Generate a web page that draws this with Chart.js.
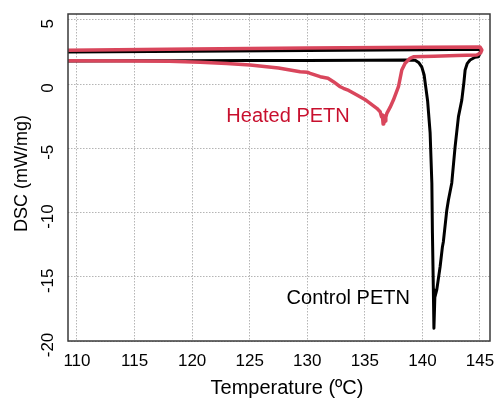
<!DOCTYPE html>
<html>
<head>
<meta charset="utf-8">
<script src="https://cdn.jsdelivr.net/npm/chart.js@4/dist/chart.umd.min.js"></script>
<style>
  html, body { margin: 0; padding: 0; background: #ffffff; }
  #wrap { width: 495px; height: 401px; position: relative; }
</style>
</head>
<body>
<div id="wrap"><canvas id="c" width="495" height="401"></canvas></div>
<script>
// ---- data ----
const xTicks = [110, 115, 120, 125, 130, 135, 140, 145];
const yTicks = [5, 0, -5, -10, -15, -20];

const xTitle = 'Temperature (ºC)';
const yTitle = 'DSC (mW/mg)';
const controlLabel = 'Control PETN';
const heatedLabel = 'Heated PETN';

// Control PETN: heating run (lower line, melt peak) then return along upper line
const controlT = [109.1, 115, 120, 125, 130, 135, 138.5, 139.37, 139.7, 139.95, 140.15, 140.3, 140.45,
  140.67, 140.82, 140.87, 140.95, 141.0, 141.08, 141.25, 141.54, 141.74, 141.82, 142.12, 142.26,
  142.55, 142.84, 143.13, 143.42, 143.6, 143.71, 143.9, 144.14, 144.58, 144.86, 144.97, 145.05,
  144.97, 140, 130, 120, 109.1];
const controlDSC = [1.80, 1.81, 1.82, 1.83, 1.84, 1.86, 1.87, 1.85, 1.65, 1.32, 0.7, -0.3, -1.3,
  -3.81, -7.7, -11.6, -16.0, -19.0, -16.6, -16.0, -14.2, -12.66, -12.27, -9.8, -9.03,
  -7.7, -4.88, -2.54, -1.25, 0.1, 1.09, 1.61, 1.87, 2.08, 2.12, 2.33, 2.60,
  2.70, 2.66, 2.60, 2.55, 2.50];

// Heated PETN: heating run (lower line, broad endotherm) then return along upper line
const heatedT = [109.1, 115, 118, 120.7, 123, 125.04, 127.5, 129.38, 130.0, 130.25, 131.12, 131.8, 132.27,
  132.86, 133.14, 133.6, 134.31, 135.0, 135.46, 136.04, 136.33, 136.45, 136.52, 136.59, 136.64,
  136.68, 136.72, 136.76, 136.82, 136.91, 137.2, 137.48, 137.92, 138.21, 138.5, 138.93, 139.22,
  141, 143, 144.72, 145.05, 145.16, 145.0, 140, 130, 120, 109.1];
const heatedDSC = [1.81, 1.80, 1.77, 1.69, 1.6, 1.48, 1.25, 0.96, 0.92, 0.83, 0.57, 0.45, 0.18,
  -0.21, -0.33, -0.5, -0.86, -1.2, -1.5, -1.89, -2.15, -2.55, -2.4, -3.11, -2.6,
  -2.49, -2.95, -2.88, -2.6, -2.28, -1.8, -1.25, -0.21, 1.09, 1.61, 2.0, 2.12,
  2.17, 2.22, 2.26, 2.41, 2.65, 2.88, 2.86, 2.80, 2.72, 2.62];

const toPts = (xs, ys) => xs.map((x, i) => ({ x: x, y: ys[i] }));

const FONT = "'Liberation Sans', Arial, Helvetica, sans-serif";

const textPlugin = {
  id: 'textPlugin',
  afterDatasetsDraw(chart) {
    const ctx = chart.ctx;
    const a = chart.chartArea;
    const xs = chart.scales.x, ys = chart.scales.y;
    ctx.save();
    // frame
    ctx.strokeStyle = '#3a3a3a';
    ctx.lineWidth = 1.5;
    ctx.strokeRect(a.left, a.top, a.right - a.left, a.bottom - a.top);
    // annotations
    ctx.textAlign = 'center';
    ctx.textBaseline = 'middle';
    ctx.font = '20px ' + FONT;
    ctx.fillStyle = '#c8102e';
    ctx.fillText(heatedLabel, xs.getPixelForValue(128.33), ys.getPixelForValue(-2.49));
    ctx.fillStyle = '#000000';
    ctx.fillText(controlLabel, xs.getPixelForValue(133.56), ys.getPixelForValue(-16.68));
    ctx.restore();
  },
  afterDraw(chart) {
    const ctx = chart.ctx;
    const a = chart.chartArea;
    const xs = chart.scales.x, ys = chart.scales.y;
    ctx.save();
    ctx.fillStyle = '#000000';
    ctx.textAlign = 'center';
    ctx.textBaseline = 'middle';
    // rotated y tick labels
    ctx.font = '17px ' + FONT;
    yTicks.forEach(v => {
      const py = ys.getPixelForValue(v) + 4;
      ctx.save();
      ctx.translate(48, py);
      ctx.rotate(-Math.PI / 2);
      ctx.fillText(String(v), 0, 0);
      ctx.restore();
    });
    // x tick labels
    ctx.textBaseline = 'alphabetic';
    xTicks.forEach(v => {
      ctx.fillText(String(v), xs.getPixelForValue(v), a.bottom + 25);
    });
    // y title
    ctx.textBaseline = 'middle';
    ctx.font = '18px ' + FONT;
    ctx.save();
    ctx.translate(22, (a.top + a.bottom) / 2 - 4);
    ctx.rotate(-Math.PI / 2);
    ctx.fillText(yTitle, 0, 0);
    ctx.restore();
    // x title
    ctx.font = '20px ' + FONT;
    ctx.fillText(xTitle, 287, 388);
    ctx.restore();
  }
};

new Chart(document.getElementById('c'), {
  type: 'line',
  data: {
    datasets: [
      {
        label: heatedLabel,
        data: toPts(heatedT, heatedDSC),
        borderColor: '#d9465c',
        borderWidth: 3.5,
        pointRadius: 0,
        tension: 0,
        fill: false,
        clip: 0,
        borderJoinStyle: 'round',
        borderCapStyle: 'round'
      },
      {
        label: controlLabel,
        data: toPts(controlT, controlDSC),
        borderColor: '#000000',
        borderWidth: 3,
        pointRadius: 0,
        tension: 0,
        fill: false,
        clip: 0,
        borderJoinStyle: 'round',
        borderCapStyle: 'round'
      }
    ]
  },
  options: {
    responsive: false,
    animation: false,
    devicePixelRatio: 1,
    layout: { padding: { left: 0, right: 5, top: 14, bottom: 0 } },
    plugins: { legend: { display: false }, tooltip: { enabled: false } },
    scales: {
      x: {
        type: 'linear',
        min: 109.22,
        max: 145.87,
        afterBuildTicks: (s) => { s.ticks = xTicks.map(v => ({ value: v })); },
        afterFit: (s) => { s.height = 60; },
        grid: { color: '#b5b5b5', lineWidth: 1, drawTicks: false },
        border: { display: false, dash: [1.5, 1.5] },
        ticks: { display: false },
        title: { display: false }
      },
      y: {
        type: 'linear',
        min: -20,
        max: 5.45,
        afterBuildTicks: (s) => { s.ticks = yTicks.map(v => ({ value: v })); },
        afterFit: (s) => { s.width = 68; },
        grid: { color: '#b5b5b5', lineWidth: 1, drawTicks: false },
        border: { display: false, dash: [1.5, 1.5] },
        ticks: { display: false },
        title: { display: false }
      }
    }
  },
  plugins: [textPlugin]
});
</script>
</body>
</html>
